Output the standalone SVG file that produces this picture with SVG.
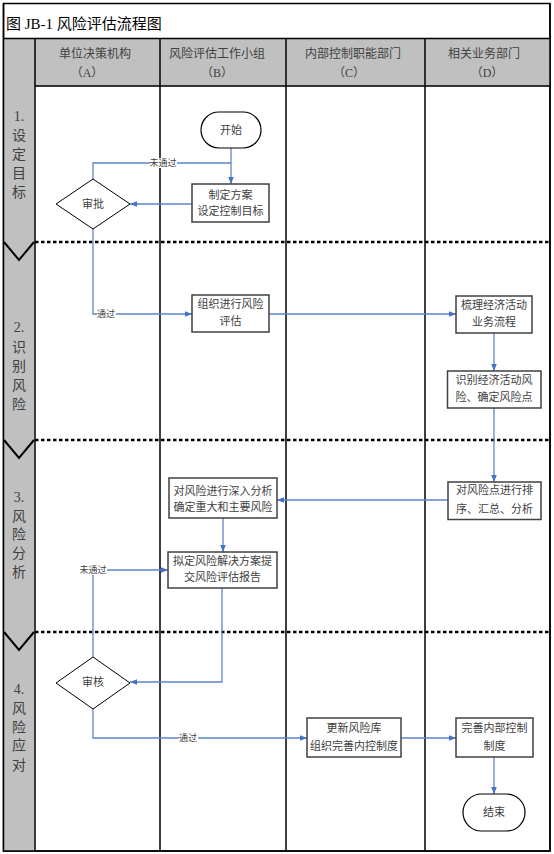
<svg xmlns="http://www.w3.org/2000/svg" width="554" height="854" viewBox="0 0 554 854">
<style>
.t{font-family:"Liberation Serif","Noto Sans CJK SC",serif;fill:#404040;text-anchor:middle}
.ti{font-family:"Liberation Serif","Noto Sans CJK SC",serif;fill:#000;font-size:15px}
.n{font-size:11px}
.h{font-size:12px}
.p{font-size:14px}
.l{font-size:9px}
.box{fill:#fff;stroke:#404040;stroke-width:1.5}
.term{fill:#fff;stroke:#000;stroke-width:1.2}
.dia{fill:#fff;stroke:#000;stroke-width:1}
.c{fill:none;stroke:#5b86c8;stroke-width:1.3}
.sep{stroke:#000;stroke-width:2.5;stroke-dasharray:3.5 2.5;fill:none}
.ln{stroke:#000;stroke-width:1.5;fill:none}
.chev{stroke:#000;stroke-width:2;fill:none}
.lb{fill:#fff}
</style>
<defs>
<marker id="a" viewBox="0 0 10 10" refX="10" refY="5" markerWidth="7" markerHeight="7" markerUnits="userSpaceOnUse" orient="auto">
<path d="M0,1 L10,5 L0,9z" fill="#4472c4"/>
</marker>
</defs>
<g id="frame">
<rect x="3.5" y="3.5" width="546.5" height="847.5" fill="#fff" stroke="#000" stroke-width="1.5"/>
<rect x="3.5" y="38.5" width="546.5" height="48" fill="#c0c0c0"/>
<rect x="3.5" y="86" width="31" height="765" fill="#c0c0c0"/>
<text class="ti" x="6" y="29">图 JB-1 风险评估流程图</text>
<path class="ln" d="M3.5,38.5 H550 M35,86 H550 M35,38.5 V851 M160,38.5 V851 M286,38.5 V851 M425,38.5 V851 M3.5,3.5 V851 H550 V3.5"/>
<path class="sep" d="M35,242 H550 M35,440 H550 M35,632 H550"/>
<path class="chev" d="M4,242 L19,260 L34,242 M4,440 L19,458 L34,440 M4,632 L19,650 L34,632"/>
</g>
<g id="header">
<text class="t h" x="95" y="58">单位决策机构</text>
<text class="t h" x="87" y="77">（A）</text>
<text class="t h" x="217" y="58">风险评估工作小组</text>
<text class="t h" x="217" y="77">（B）</text>
<text class="t h" x="353" y="58">内部控制职能部门</text>
<text class="t h" x="349" y="77">（C）</text>
<text class="t h" x="484" y="58">相关业务部门</text>
<text class="t h" x="487" y="77">（D）</text>
</g>
<g id="phases">
<text class="t p" x="19" y="121">1.</text>
<text class="t p" x="19" y="140">设</text>
<text class="t p" x="19" y="159">定</text>
<text class="t p" x="19" y="178">目</text>
<text class="t p" x="19" y="197">标</text>
<text class="t p" x="19" y="332">2.</text>
<text class="t p" x="19" y="352">识</text>
<text class="t p" x="19" y="371">别</text>
<text class="t p" x="19" y="390">风</text>
<text class="t p" x="19" y="409">险</text>
<text class="t p" x="19" y="502">3.</text>
<text class="t p" x="19" y="521">风</text>
<text class="t p" x="19" y="539">险</text>
<text class="t p" x="19" y="558">分</text>
<text class="t p" x="19" y="577">析</text>
<text class="t p" x="19" y="694">4.</text>
<text class="t p" x="19" y="713">风</text>
<text class="t p" x="19" y="732">险</text>
<text class="t p" x="19" y="750">应</text>
<text class="t p" x="19" y="770">对</text>
</g>
<g id="connectors">
<path class="c" d="M231,148 V184" marker-end="url(#a)"/>
<path class="c" d="M93,179 V163 H231"/>
<path class="c" d="M192,204 H130" marker-end="url(#a)"/>
<path class="c" d="M93,229 V314 H192" marker-end="url(#a)"/>
<path class="c" d="M269,314 H456" marker-end="url(#a)"/>
<path class="c" d="M494,333 V371" marker-end="url(#a)"/>
<path class="c" d="M494,408 V482" marker-end="url(#a)"/>
<path class="c" d="M448,500 H277" marker-end="url(#a)"/>
<path class="c" d="M223,518 V552" marker-end="url(#a)"/>
<path class="c" d="M222,588 V682 H130" marker-end="url(#a)"/>
<path class="c" d="M93,657 V570 H168" marker-end="url(#a)"/>
<path class="c" d="M93,709 V738 H307" marker-end="url(#a)"/>
<path class="c" d="M401,738 H456" marker-end="url(#a)"/>
<path class="c" d="M494,757 V794" marker-end="url(#a)"/>
<rect class="lb" x="150" y="158" width="27" height="10"/>
<text class="t l" x="163" y="166">未通过</text>
<rect class="lb" x="97" y="309" width="19" height="10"/>
<text class="t l" x="106" y="317">通过</text>
<rect class="lb" x="80" y="565" width="27" height="10"/>
<text class="t l" x="93" y="573">未通过</text>
<rect class="lb" x="179" y="733" width="19" height="10"/>
<text class="t l" x="188" y="741">通过</text>
</g>
<g id="n-start"><rect class="term" x="201" y="112" width="60" height="36" rx="18"/><text class="t n" x="231" y="134">开始</text></g>
<g id="n-plan"><rect class="box" x="192" y="184" width="77" height="38"/><text class="t n" x="230.5" y="199">制定方案</text><text class="t n" x="230.5" y="215">设定控制目标</text></g>
<g id="n-approve"><polygon class="dia" points="93,179 130,204 93,229 56,204"/><text class="t n" x="93" y="208">审批</text></g>
<g id="n-organize"><rect class="box" x="192" y="295" width="77" height="37"/><text class="t n" x="230.5" y="308">组织进行风险</text><text class="t n" x="230.5" y="325">评估</text></g>
<g id="n-sort"><rect class="box" x="456" y="296" width="76" height="37"/><text class="t n" x="494" y="309">梳理经济活动</text><text class="t n" x="494" y="326">业务流程</text></g>
<g id="n-identify"><rect class="box" x="447.5" y="371" width="93.5" height="37"/><text class="t n" x="494" y="384">识别经济活动风</text><text class="t n" x="494" y="401">险、确定风险点</text></g>
<g id="n-rank"><rect class="box" x="448" y="482" width="93" height="37.5"/><text class="t n" x="494.5" y="494">对风险点进行排</text><text class="t n" x="494.5" y="512.5">序、汇总、分析</text></g>
<g id="n-analyze"><rect class="box" x="169" y="478" width="108" height="40"/><text class="t n" x="223" y="495">对风险进行深入分析</text><text class="t n" x="223" y="511">确定重大和主要风险</text></g>
<g id="n-report"><rect class="box" x="168" y="552" width="109" height="36"/><text class="t n" x="222.5" y="565">拟定风险解决方案提</text><text class="t n" x="222.5" y="581">交风险评估报告</text></g>
<g id="n-review"><polygon class="dia" points="93,657 130,683 93,709 56,683"/><text class="t n" x="93" y="686">审核</text></g>
<g id="n-update"><rect class="box" x="307" y="718" width="94" height="39"/><text class="t n" x="354" y="732">更新风险库</text><text class="t n" x="354" y="750">组织完善内控制度</text></g>
<g id="n-improve"><rect class="box" x="456" y="718" width="77" height="39"/><text class="t n" x="494.5" y="732">完善内部控制</text><text class="t n" x="494.5" y="750">制度</text></g>
<g id="n-end"><rect class="term" x="463" y="794" width="62" height="37" rx="18.5"/><text class="t n" x="494" y="816">结束</text></g>
</svg>
